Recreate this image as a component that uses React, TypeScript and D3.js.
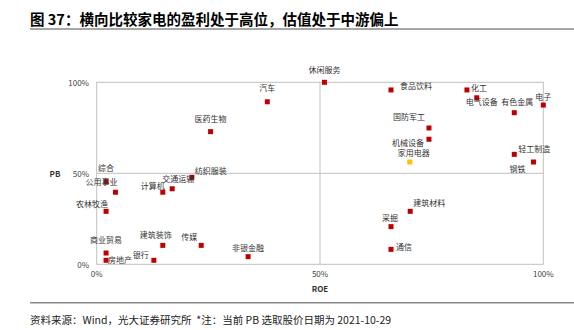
import React from "react";
import * as d3 from "d3";

const industries = [
  "休闲服务", "食品饮料", "化工", "电气设备", "电子", "有色金属", "国防军工", "机械设备",
  "家用电器", "轻工制造", "钢铁", "汽车", "医药生物", "纺织服装", "综合", "公用事业",
  "计算机", "交通运输", "农林牧渔", "建筑装饰", "传媒", "非银金融", "商业贸易", "房地产",
  "银行", "建筑材料", "采掘", "通信",
];
const roe = [
  0.51, 0.659, 0.829, 0.851, 1.0, 0.935, 0.744, 0.744,
  0.701, 0.935, 0.978, 0.382, 0.255, 0.213, 0.021, 0.042,
  0.148, 0.169, 0.021, 0.148, 0.234, 0.339, 0.021, 0.021,
  0.128, 0.702, 0.659, 0.659,
];
const pb = [
  1.0, 0.958, 0.958, 0.915, 0.875, 0.833, 0.749, 0.687,
  0.562, 0.604, 0.562, 0.893, 0.729, 0.478, 0.454, 0.396,
  0.396, 0.415, 0.291, 0.104, 0.104, 0.042, 0.062, 0.022,
  0.022, 0.291, 0.207, 0.082,
];
const highlight = "家用电器";
const xTicks = [0, 0.5, 1];
const yTicks = [0, 0.5, 1];
const titleText = "图 37：横向比较家电的盈利处于高位，估值处于中游偏上";
const sourceText = "资料来源：Wind，光大证券研究所  *注：当前 PB 选取股价日期为 2021-10-29";
const xAxisTitle = "ROE";
const yAxisTitle = "PB";

// label placement offsets (layout only)
const labelOffsets: [number, number][] = [
  [0, -13], [25, -4], [12, -2], [5, 4], [0, -9], [3, -11], [-20, -11], [-21, 3],
  [4, -10], [20, -6], [-16, 6], [0, -14], [0, -13], [19, -7], [0, -14], [-14, -11],
  [-10, -7], [6, -10], [-14, -8], [-7, -11], [-12, -9], [0, -9.5], [0, -14], [14, -1],
  [-13, -6], [19, -9], [-1, -9], [13, -3],
];

const FONT = "'Noto Sans CJK SC', 'Noto Sans', sans-serif";

export default function App() {
  const W = 574, H = 330;
  const left = 96.7, right = 543.3, top = 82.3, bottom = 264.3;
  const x = d3.scaleLinear().domain([0, 1]).range([left, right]);
  const y = d3.scaleLinear().domain([0, 1]).range([bottom, top]);
  const fmt = d3.format(".0%");
  const sq = 5;

  return (
    <svg width={W} height={H} style={{ position: "absolute", left: 0, top: 0, background: "#fff" }} fontFamily={FONT}>
      <text x={30} y={18.5} fontSize={14.5} fontWeight="bold" fill="#000" dominantBaseline="central">{titleText}</text>
      <line x1={30} x2={574} y1={29} y2={29} stroke="#8a8a8a" strokeWidth={1.5} />

      {/* plot frame */}
      <rect x={left} y={top} width={right - left} height={bottom - top} fill="none" stroke="#c0c0c0" strokeWidth={1} />
      <line x1={x(0.5)} x2={x(0.5)} y1={top} y2={bottom} stroke="#c0c0c0" strokeWidth={1} />
      <line x1={left} x2={right} y1={y(0.5)} y2={y(0.5)} stroke="#c0c0c0" strokeWidth={1} />

      {xTicks.map((t) => (
        <text key={"x" + t} x={x(t)} y={273} fontSize={8} fill="#444" textAnchor="middle" dominantBaseline="central">{fmt(t)}</text>
      ))}
      {yTicks.map((t) => (
        <text key={"y" + t} x={89} y={y(t)} fontSize={8} fill="#444" textAnchor="end" dominantBaseline="central">{fmt(t)}</text>
      ))}
      <text x={x(0.5)} y={288} fontSize={8} fontWeight="bold" fill="#333" textAnchor="middle" dominantBaseline="central">{xAxisTitle}</text>
      <text x={55} y={y(0.5)} fontSize={8} fontWeight="bold" fill="#333" textAnchor="middle" dominantBaseline="central">{yAxisTitle}</text>

      {industries.map((name, i) => (
        <rect key={"p" + name} x={x(roe[i]) - sq / 2} y={y(pb[i]) - sq / 2} width={sq} height={sq}
          fill={name === highlight ? "#ffc000" : "#c00000"} />
      ))}
      {industries.map((name, i) => (
        <text key={"l" + name} x={x(roe[i]) + labelOffsets[i][0]} y={y(pb[i]) + labelOffsets[i][1]}
          fontSize={8} fill="#333" textAnchor="middle" dominantBaseline="central">{name}</text>
      ))}

      <line x1={30} x2={574} y1={302.7} y2={302.7} stroke="#8a8a8a" strokeWidth={1.5} />
      <text x={30} y={319} fontSize={10.5} fill="#222" dominantBaseline="central" style={{ whiteSpace: "pre" }}>{sourceText}</text>
    </svg>
  );
}
